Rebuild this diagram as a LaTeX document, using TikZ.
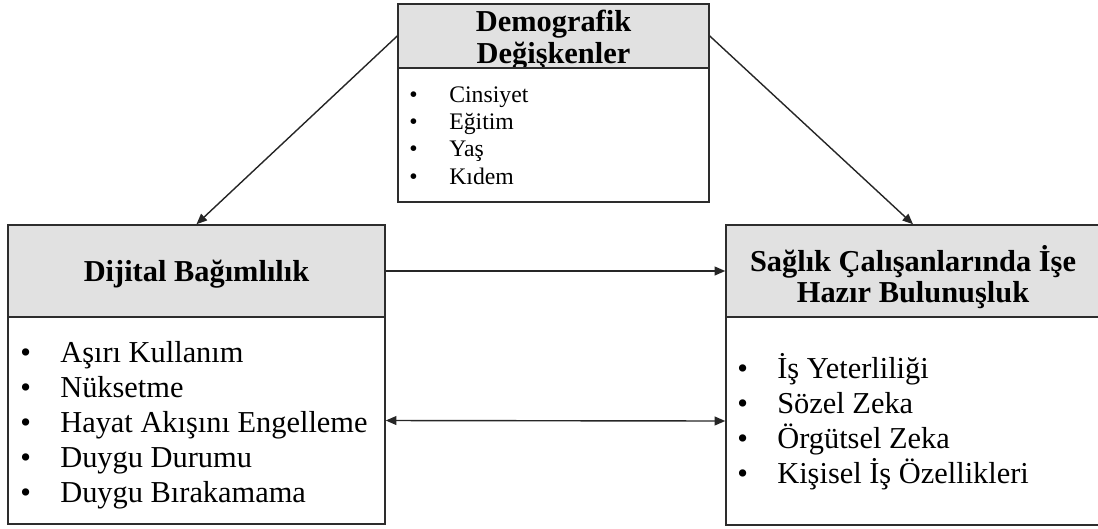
\documentclass[tikz,border=0pt]{standalone}
\usepackage{fontspec}
\setmainfont{Liberation Serif}
\usetikzlibrary{arrows.meta, positioning}
\definecolor{headgray}{RGB}{225, 225, 225}
\definecolor{edgegray}{RGB}{45, 45, 45}
\newcommand{\itm}[1]{\makebox[0.8cm][l]{\textbullet}#1}

\begin{document}
\begin{tikzpicture}[x=0.02cm, y=-0.02cm,
  headbox/.style={rectangle, draw=edgegray, line width=0.9pt, fill=headgray},
  headtext/.style={align=center, inner sep=0pt, font=\fontsize{17.3}{18}\selectfont\bfseries},
  bodybox/.style={rectangle, draw=edgegray, line width=0.9pt, fill=white},
  listtext/.style={anchor=west, align=left, inner sep=0pt},
  link/.style={line width=0.8pt, black!85, -{Triangle[length=6pt, width=5pt]}}]
\useasboundingbox (0,0) rectangle (1098,528);

% Demographic variables
\node[headbox, minimum width=6.22cm, minimum height=1.28cm] (demohead) at (553.5,36) {};
\node[headtext, font=\fontsize{17.3}{18.6}\selectfont\bfseries] (demotitle) at (553.5,40) {Demografik\\Değişkenler};
\node[bodybox, minimum width=6.22cm, minimum height=2.68cm] (demobody) at (553.5,135) {};
\node[listtext, font=\fontsize{13.5}{15.6}\selectfont] (demolist) at (409,135.5)
  {\itm{Cinsiyet}\\\itm{Eğitim}\\\itm{Yaş}\\\itm{Kıdem}};

% Digital addiction
\node[headbox, minimum width=7.54cm, minimum height=1.84cm] (dighead) at (196.5,271) {};
\node[headtext] (digtitle) at (196.5,274) {Dijital Bağımlılık};
\node[bodybox, minimum width=7.54cm, minimum height=4.14cm] (digbody) at (196.5,420.5) {};
\node[listtext, font=\fontsize{17.3}{19.9}\selectfont] (diglist) at (20,425)
  {\itm{Aşırı Kullanım}\\\itm{Nüksetme}\\\itm{Hayat Akışını Engelleme}\\\itm{Duygu Durumu}\\\itm{Duygu Bırakamama}};

% Work readiness
\node[headbox, minimum width=7.48cm, minimum height=1.84cm] (hazhead) at (913,271) {};
\node[headtext] (haztitle) at (913,277) {Sağlık Çalışanlarında İşe\\Hazır Bulunuşluk};
\node[bodybox, minimum width=7.48cm, minimum height=4.16cm] (hazbody) at (913,421) {};
\node[listtext, font=\fontsize{17.3}{19.9}\selectfont] (hazlist) at (737,421.5)
  {\itm{İş Yeterliliği}\\\itm{Sözel Zeka}\\\itm{Örgütsel Zeka}\\\itm{Kişisel İş Özellikleri}};

% Arrows
\draw[link] (demohead.west) -- (dighead.north);
\draw[link] (demohead.east) -- (hazhead.north);
\draw[link] (dighead.east) -- (hazhead.west);
\draw[link, {Triangle[length=6pt, width=5pt]}-{Triangle[length=6pt, width=5pt]}] (digbody.east) -- (hazbody.west);
\end{tikzpicture}
\end{document}
